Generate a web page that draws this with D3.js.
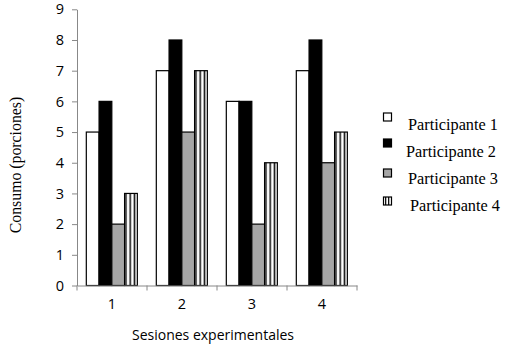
<!DOCTYPE html>
<html><head><meta charset="utf-8">
<script src="https://cdn.jsdelivr.net/npm/d3@7"></script>
<style>body{margin:0;background:#fff}svg{display:block}</style>
</head><body>
<svg id="c" width="515" height="357"></svg>
<script>
const sessions = ["1","2","3","4"];
const participants = ["Participante 1","Participante 2","Participante 3","Participante 4"];
const p1 = [5,7,6,7];
const p2 = [6,8,6,8];
const p3 = [2,5,2,4];
const p4 = [3,7,4,5];
const yTicks = [0,1,2,3,4,5,6,7,8,9];
const series = [p1,p2,p3,p4];

const svg = d3.select("#c");
const defs = svg.append("defs");
const pat = defs.append("pattern").attr("id","stripes").attr("patternUnits","userSpaceOnUse")
  .attr("width",4.25).attr("height",10);
pat.append("rect").attr("width",4.25).attr("height",10).attr("fill","#fff");
pat.append("rect").attr("x",1.4).attr("width",1.6).attr("height",10).attr("fill","#111");
const patL = defs.append("pattern").attr("id","stripesL").attr("patternUnits","userSpaceOnUse")
  .attr("width",3).attr("height",10);
patL.append("rect").attr("width",3).attr("height",10).attr("fill","#fff");
patL.append("rect").attr("x",1).attr("width",1.3).attr("height",10).attr("fill","#111");

const fills = ["#fff","#000","#a6a6a6","url(#stripes)"];
const legFills = ["#fff","#000","#a6a6a6","url(#stripesL)"];

const x0 = d3.scaleBand().domain(sessions).range([77,357]).padding(0);
const x1 = d3.scaleBand().domain(d3.range(4)).range([x0.bandwidth()*0.133, x0.bandwidth()*0.862]).padding(0);
const y = d3.scaleLinear().domain([0,9]).range([285.5,9.3]);

// bars
sessions.forEach((s,i)=>{
  const g = svg.append("g").attr("transform",`translate(${x0(s)},0)`);
  series.forEach((arr,j)=>{
    g.append("rect")
      .attr("x",x1(j)).attr("y",y(arr[i]))
      .attr("width",x1.bandwidth()).attr("height",y(0)-y(arr[i]))
      .attr("fill",fills[j]).attr("stroke","#000").attr("stroke-width",1.2);
  });
});

// y axis
const yAxis = d3.axisLeft(y).tickValues(yTicks).tickSize(5).tickPadding(8).tickSizeOuter(0);
const ya = svg.append("g").attr("transform","translate(77,0)").call(yAxis);
ya.select(".domain").attr("stroke","#888");
ya.selectAll(".tick line").attr("stroke","#888");
ya.selectAll("text").attr("font-family","'Open Sans', sans-serif").attr("font-size","14.5px").attr("fill","#000");

// x axis
const xAxis = d3.axisBottom(x0).tickSize(0).tickPadding(13);
const xa = svg.append("g").attr("transform",`translate(0,${y(0)})`).call(xAxis);
xa.select(".domain").attr("stroke","#888");
xa.selectAll("text").attr("font-family","'Open Sans', sans-serif").attr("font-size","14.5px").attr("fill","#000");
xa.selectAll(".bt").data(d3.range(sessions.length+1)).enter().append("line")
  .attr("x1",d=>77+d*x0.step()).attr("x2",d=>77+d*x0.step())
  .attr("y1",0).attr("y2",5).attr("stroke","#888");

// axis titles
svg.append("text").attr("x",213).attr("y",340).attr("text-anchor","middle")
  .attr("font-family","'Open Sans', sans-serif").attr("font-size","14px").text("Sesiones experimentales");
svg.append("text").attr("transform","translate(21,165) rotate(-90)").attr("text-anchor","middle")
  .attr("font-family","'Liberation Serif', serif").attr("font-size","15.8px").text("Consumo (porciones)");

// legend
const legSq = [113,139,169,197];
const legTx = [130,157,184,211];
const legTxX = [408,406,408,410];
participants.forEach((p,j)=>{
  svg.append("rect").attr("x",383.5).attr("y",legSq[j]).attr("width",8).attr("height",8)
    .attr("fill",legFills[j]).attr("stroke","#000").attr("stroke-width",1.2);
  svg.append("text").attr("x",legTxX[j]).attr("y",legTx[j])
    .attr("font-family","'Liberation Serif', serif").attr("font-size","16.3px").text(p);
});
</script>
</body></html>
